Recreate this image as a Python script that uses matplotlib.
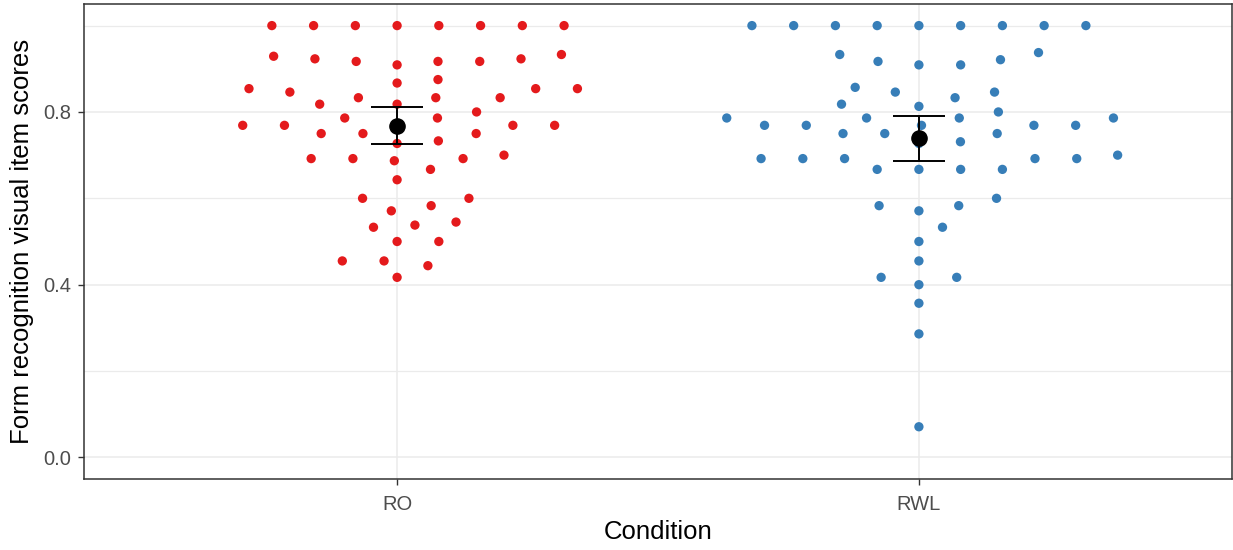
import numpy as np
import matplotlib
matplotlib.use('Agg')
import matplotlib.pyplot as plt

# Dados
categories = ['RO', 'RWL']

ro_scores = [1.0, 1.0, 1.0, 1.0, 1.0, 1.0, 1.0, 1.0,
             0.929, 0.923, 0.917, 0.909, 0.917, 0.917, 0.923, 0.933,
             0.854, 0.846, 0.818, 0.833, 0.867, 0.875, 0.833, 0.833, 0.854, 0.854,
             0.818, 0.800, 0.786, 0.786,
             0.769, 0.769, 0.769, 0.769, 0.769,
             0.750, 0.750, 0.750, 0.727, 0.733,
             0.692, 0.692, 0.692, 0.687, 0.700, 0.667, 0.643,
             0.600, 0.600, 0.583, 0.571, 0.545, 0.538, 0.533,
             0.500, 0.500, 0.455, 0.455, 0.444, 0.417]

rwl_scores = [1.0, 1.0, 1.0, 1.0, 1.0, 1.0, 1.0, 1.0, 1.0,
              0.933, 0.917, 0.909, 0.909, 0.921, 0.9375,
              0.857, 0.846, 0.833, 0.846, 0.818, 0.813, 0.800,
              0.786, 0.786, 0.786, 0.786,
              0.769, 0.769, 0.769, 0.769, 0.769,
              0.750, 0.750, 0.750, 0.727, 0.731,
              0.692, 0.692, 0.692, 0.692, 0.692, 0.700,
              0.667, 0.667, 0.667, 0.667,
              0.583, 0.571, 0.583, 0.600, 0.533, 0.500, 0.455,
              0.417, 0.417, 0.400, 0.357, 0.286, 0.071]

colors = ['#E41A1C', '#377EB8']


# beeswarm (metodo "swarm", prioridade ascendente, como no ggbeeswarm)
def swarm_offsets(values, dsize, gsize):
    v = np.asarray(values, dtype=float) / dsize
    order = np.argsort(v, kind='stable')
    xs = v[order]
    ys = np.zeros(len(xs))
    for i in range(1, len(xs)):
        xi = xs[i]
        pot = np.abs(xi - xs[:i]) < 1
        if not pot.any():
            continue
        px = xs[:i][pot]
        py = ys[:i][pot]
        off = np.sqrt(1 - (xi - px) ** 2)
        cand = np.concatenate([[0.0], py + off, py - off])
        bad = np.array([np.any((xi - px) ** 2 + (c - py) ** 2 < 0.999) for c in cand])
        cand[bad] = np.inf
        ys[i] = cand[np.argmin(np.abs(cand))]
    out = np.empty(len(xs))
    out[order] = ys * gsize
    return out


plt.rcParams['font.family'] = ['Liberation Sans', 'DejaVu Sans']

fig = plt.figure(figsize=(12.33, 5.5), dpi=100)
ax = fig.add_axes([84 / 1233, 71 / 550, 1148 / 1233, 475 / 550])

groups = [ro_scores, rwl_scores]
t_crit = 2.0  # ~ quantil t(0.975, n-1) para n ~ 60

for i, (scores, cor) in enumerate(zip(groups, colors)):
    pos = i + 1
    y = np.array(scores)
    x = pos + swarm_offsets(y, 0.040, 0.080)
    ax.scatter(x, y, s=45, color=cor, edgecolors='none', zorder=3)

    media = y.mean()
    ic = t_crit * y.std(ddof=1) / np.sqrt(len(y))
    ax.vlines(pos, media - ic, media + ic, color='black', lw=1.4, zorder=4)
    ax.hlines([media - ic, media + ic], pos - 0.05, pos + 0.05, color='black', lw=1.4, zorder=4)
    ax.scatter([pos], [media], s=120, color='black', zorder=5)

ax.set_xlim(0.4, 2.6)
ax.set_ylim(-0.05, 1.05)
ax.set_xticks([1, 2])
ax.set_xticklabels(categories)
ax.set_yticks([0.0, 0.4, 0.8])
ax.set_yticklabels(['0.0', '0.4', '0.8'])
ax.set_yticks([0.2, 0.6, 1.0], minor=True)

ax.grid(which='major', color='#EBEBEB', lw=1.1, zorder=0)
ax.grid(which='minor', axis='y', color='#EBEBEB', lw=0.9, zorder=0)
ax.set_axisbelow(True)
ax.tick_params(which='minor', length=0)
ax.tick_params(which='major', length=4.5, width=1, color='#333333',
               labelsize=14.5, labelcolor='#4D4D4D', pad=5)
ax.tick_params(axis='x', pad=7)
for sp in ax.spines.values():
    sp.set_color('#333333')
    sp.set_linewidth(1.1)

fig.text(658 / 1233, 1 - 532 / 550, 'Condition', ha='center', va='center', fontsize=18.5)
fig.text(22 / 1233, 1 - 241 / 550, 'Form recognition visual item scores',
         ha='center', va='center', rotation=90, fontsize=18.5)

fig.savefig('out.png', dpi=100)
